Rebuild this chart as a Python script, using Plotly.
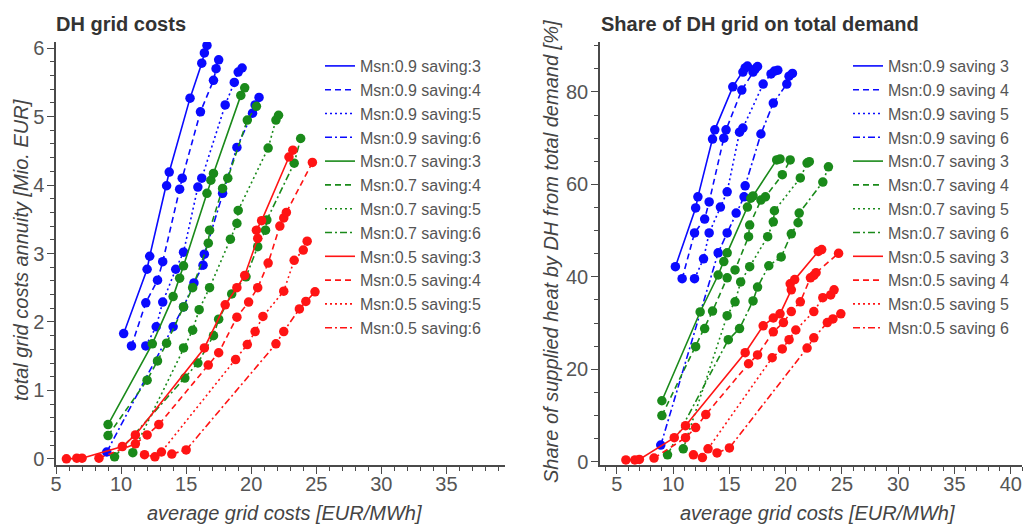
import plotly.graph_objects as go

# ---------------- data ----------------
# x = average grid costs [EUR/MWh]; cost = grid costs annuity [Mio. EUR]; share = share of DH [%]
x_09_3 = [10.2, 12.0, 12.2, 13.5, 13.7, 15.3, 16.2, 16.4, 16.6]
cost_09_3 = [1.83, 2.77, 2.96, 3.99, 4.19, 5.27, 5.78, 5.93, 6.04]
share_09_3 = [42.2, 54.9, 57.3, 69.8, 71.8, 81.1, 84.3, 85.2, 85.6]

x_09_4 = [10.8, 11.9, 12.8, 13.2, 14.5, 14.7, 16.1, 17.1, 17.3, 17.5]
cost_09_4 = [1.65, 2.28, 2.61, 2.88, 3.94, 4.10, 5.07, 5.53, 5.70, 5.83]
share_09_4 = [39.6, 49.5, 52.5, 56.2, 70.0, 71.8, 80.4, 84.3, 85.0, 85.5]

x_09_5 = [11.9, 12.7, 13.2, 14.2, 14.8, 15.9, 16.2, 18.0, 18.7, 19.0, 19.3]
cost_09_5 = [1.65, 1.93, 2.29, 2.77, 3.02, 3.97, 4.10, 5.17, 5.50, 5.65, 5.71]
share_09_5 = [39.6, 43.9, 49.5, 55.1, 58.4, 71.3, 72.2, 81.7, 83.9, 84.5, 84.7]

x_09_6 = [8.9, 14.0, 14.8, 15.6, 16.3, 16.4, 17.8, 18.9, 20.1, 20.3, 20.6]
cost_09_6 = [0.10, 1.93, 2.22, 2.57, 2.83, 2.99, 3.88, 4.55, 5.05, 5.17, 5.28]
share_09_6 = [3.6, 45.2, 49.5, 53.8, 57.3, 59.7, 70.9, 77.6, 81.7, 83.4, 84.0]

x_07_3 = [9.0, 12.4, 14.0, 14.5, 14.8, 16.6, 16.9, 17.1, 19.2, 19.5]
cost_07_3 = [0.50, 1.68, 2.37, 2.64, 2.82, 3.88, 4.07, 4.17, 5.31, 5.42]
share_07_3 = [13.2, 32.4, 40.4, 43.3, 45.2, 55.1, 57.0, 57.5, 65.3, 65.5]

x_07_4 = [9.0, 12.0, 12.8, 13.5, 14.8, 15.5, 16.7, 16.8, 17.8, 18.2, 19.7, 20.4]
cost_07_4 = [0.34, 1.15, 1.43, 1.69, 2.22, 2.50, 3.15, 3.34, 3.95, 4.10, 4.95, 5.15]
share_07_4 = [10.0, 24.9, 28.8, 32.6, 39.8, 41.5, 48.7, 51.2, 56.6, 57.3, 62.1, 65.3]

x_07_5 = [10.9, 14.8, 15.5, 16.0, 16.8, 18.4, 18.9, 19.0, 21.3, 21.9, 22.1]
cost_07_5 = [0.09, 1.62, 1.88, 2.18, 2.50, 3.21, 3.44, 3.63, 4.54, 4.95, 5.02]
share_07_5 = [2.8, 31.6, 34.6, 38.9, 42.2, 48.7, 51.9, 54.3, 61.4, 64.6, 64.9]

x_07_6 = [9.5, 14.9, 15.9, 17.1, 17.5, 18.5, 19.6, 20.5, 21.1, 21.2, 23.3, 23.8]
cost_07_6 = [0.03, 1.18, 1.40, 1.80, 2.04, 2.41, 2.66, 3.10, 3.34, 3.49, 4.32, 4.68]
share_07_6 = [1.5, 26.4, 28.8, 34.8, 37.8, 42.4, 44.3, 49.3, 51.7, 53.8, 60.5, 63.8]

x_05_3 = [5.8, 6.6, 7.0, 10.1, 11.1, 16.4, 18.0, 18.9, 19.5, 20.5, 20.4, 20.8, 22.9, 23.2]
cost_05_3 = [0.00, 0.01, 0.01, 0.18, 0.35, 1.62, 2.25, 2.50, 2.68, 3.22, 3.34, 3.48, 4.41, 4.51]
share_05_3 = [0.4, 0.4, 0.5, 5.2, 7.8, 23.6, 29.4, 31.1, 32.0, 37.2, 38.5, 39.4, 45.5, 45.9]

x_05_4 = [8.3, 11.1, 12.0, 12.9, 16.7, 17.5, 18.9, 19.8, 20.5, 21.3, 22.2, 22.5, 22.7, 24.7]
cost_05_4 = [0.01, 0.22, 0.35, 0.50, 1.37, 1.55, 2.07, 2.29, 2.50, 2.86, 3.40, 3.52, 3.60, 4.33]
share_05_4 = [0.8, 5.2, 7.4, 10.2, 21.2, 23.1, 28.1, 30.1, 32.5, 34.6, 39.8, 40.3, 40.9, 45.1]

x_05_5 = [11.8, 12.6, 13.1, 18.8, 19.7, 20.3, 20.9, 22.5, 23.3, 24.0, 24.3]
cost_05_5 = [0.06, 0.03, 0.10, 1.45, 1.67, 1.86, 2.08, 2.45, 2.90, 3.05, 3.18]
share_05_5 = [1.5, 0.9, 2.8, 22.5, 24.4, 26.4, 28.5, 32.5, 35.5, 36.1, 37.2]

x_05_6 = [13.9, 15.0, 21.9, 22.5, 23.7, 24.2, 24.9]
cost_05_6 = [0.07, 0.13, 1.68, 1.86, 2.19, 2.30, 2.44]
share_05_6 = [1.9, 3.0, 24.6, 26.8, 30.1, 30.9, 32.0]

msn_levels = ["0.9", "0.7", "0.5"]
saving_levels = ["3", "4", "5", "6"]

x_ticks_left = [5, 10, 15, 20, 25, 30, 35]
x_ticks_right = [5, 10, 15, 20, 25, 30, 35, 40]
y_ticks_left = [0, 1, 2, 3, 4, 5, 6]
y_ticks_right = [0, 20, 40, 60, 80]

# ---------------- styling ----------------
BLUE = "#0a0aff"
GREEN = "#1a8a1a"
RED = "#ff1414"
msn_colors = {"0.9": BLUE, "0.7": GREEN, "0.5": RED}
saving_dash = {"3": "solid", "4": "6px,4px", "5": "2px,3px", "6": "7px,3px,2px,3px"}

series = [
    ("0.9", "3", x_09_3, cost_09_3, share_09_3),
    ("0.9", "4", x_09_4, cost_09_4, share_09_4),
    ("0.9", "5", x_09_5, cost_09_5, share_09_5),
    ("0.9", "6", x_09_6, cost_09_6, share_09_6),
    ("0.7", "3", x_07_3, cost_07_3, share_07_3),
    ("0.7", "4", x_07_4, cost_07_4, share_07_4),
    ("0.7", "5", x_07_5, cost_07_5, share_07_5),
    ("0.7", "6", x_07_6, cost_07_6, share_07_6),
    ("0.5", "3", x_05_3, cost_05_3, share_05_3),
    ("0.5", "4", x_05_4, cost_05_4, share_05_4),
    ("0.5", "5", x_05_5, cost_05_5, share_05_5),
    ("0.5", "6", x_05_6, cost_05_6, share_05_6),
]

fig = go.Figure()

for msn, sav, xs, cs, ss in series:
    col = msn_colors[msn]
    dash = saving_dash[sav]
    fig.add_trace(go.Scatter(x=xs, y=cs, mode="lines+markers",
                             line=dict(color=col, width=1.6, dash=dash),
                             marker=dict(size=9.5, color=col),
                             showlegend=False, xaxis="x", yaxis="y", hoverinfo="skip"))
    fig.add_trace(go.Scatter(x=xs, y=ss, mode="lines+markers",
                             line=dict(color=col, width=1.6, dash=dash),
                             marker=dict(size=9.5, color=col),
                             showlegend=False, xaxis="x2", yaxis="y2", hoverinfo="skip"))

# legend entries (line only)
for msn in msn_levels:
    for sav in saving_levels:
        col = msn_colors[msn]
        dash = saving_dash[sav]
        fig.add_trace(go.Scatter(x=[None], y=[None], mode="lines",
                                 line=dict(color=col, width=1.6, dash=dash),
                                 name=f"Msn:{msn} saving:{sav}", legend="legend",
                                 xaxis="x", yaxis="y"))
        fig.add_trace(go.Scatter(x=[None], y=[None], mode="lines",
                                 line=dict(color=col, width=1.6, dash=dash),
                                 name=f"Msn:{msn} saving {sav}", legend="legend2",
                                 xaxis="x2", yaxis="y2"))

W, H = 1033, 524
AX = "#4a4a4a"
TICKC = "#555555"


def px_x(p):
    return p / W


def px_y(p):
    return 1 - p / H


common_axis = dict(showline=True, linecolor=AX, linewidth=1.5, showgrid=False, zeroline=False,
                   ticks="outside", ticklen=7, tickwidth=1.3, tickcolor=AX, automargin=False,
                   tickfont=dict(size=20, color=TICKC))

fig.update_layout(
    width=W, height=H,
    margin=dict(l=0, r=0, t=0, b=0),
    paper_bgcolor="white", plot_bgcolor="white",
    font=dict(family="Liberation Sans, Arial, sans-serif", size=18, color="#444"),
    xaxis=dict(domain=[px_x(56), px_x(505)], range=[5, 39.5], tickvals=x_ticks_left,
               anchor="y", ticklabelstandoff=-7,
               minor=dict(dtick=1, tick0=5, ticks="outside", ticklen=4, tickcolor=AX),
               **common_axis),
    yaxis=dict(domain=[px_y(465), px_y(42)], range=[-0.09, 6.09], tickvals=y_ticks_left,
               anchor="x", ticklabelstandoff=-1,
               minor=dict(dtick=0.2, tick0=0, ticks="outside", ticklen=4, tickcolor=AX),
               **common_axis),
    xaxis2=dict(domain=[px_x(600), px_x(1022)], range=[3.5, 41], tickvals=x_ticks_right,
                anchor="y2", ticklabelstandoff=-7,
                minor=dict(dtick=1, tick0=5, ticks="outside", ticklen=4, tickcolor=AX),
                **common_axis),
    yaxis2=dict(domain=[px_y(465), px_y(42)], range=[-0.7, 90.8], tickvals=y_ticks_right,
                anchor="x2", ticklabelstandoff=-1,
                minor=dict(dtick=5, tick0=0, ticks="outside", ticklen=4, tickcolor=AX),
                **common_axis),
    legend=dict(x=px_x(320), y=px_y(49), xanchor="left", yanchor="top",
                font=dict(size=16, color="#555"), bgcolor="rgba(0,0,0,0)",
                itemwidth=30, tracegroupgap=0),
    legend2=dict(x=px_x(848), y=px_y(49), xanchor="left", yanchor="top",
                 font=dict(size=16, color="#555"), bgcolor="rgba(0,0,0,0)",
                 itemwidth=30, tracegroupgap=0),
)

annots = [
    dict(text="<b>DH grid costs</b>", x=px_x(54), y=px_y(24), xanchor="left", yanchor="middle",
         font=dict(size=20, color="#333")),
    dict(text="<b>Share of DH grid on total demand</b>", x=px_x(599), y=px_y(24), xanchor="left",
         yanchor="middle", font=dict(size=20, color="#333")),
    dict(text="<i>average grid costs [EUR/MWh]</i>", x=px_x(284), y=px_y(513), xanchor="center",
         yanchor="middle", font=dict(size=20, color="#444")),
    dict(text="<i>average grid costs [EUR/MWh]</i>", x=px_x(817), y=px_y(513), xanchor="center",
         yanchor="middle", font=dict(size=20, color="#444")),
    dict(text="<i>total grid costs annuity [Mio. EUR]</i>", x=px_x(21), y=px_y(250), xanchor="center",
         yanchor="middle", textangle=-90, font=dict(size=20, color="#444")),
    dict(text="<i>Share of supplied heat by DH from total demand [%]</i>", x=px_x(551), y=px_y(252),
         xanchor="center", yanchor="middle", textangle=-90, font=dict(size=20, color="#444")),
]
for a in annots:
    a.update(xref="paper", yref="paper", showarrow=False)
fig.update_layout(annotations=annots)

fig.write_html("out.html")
